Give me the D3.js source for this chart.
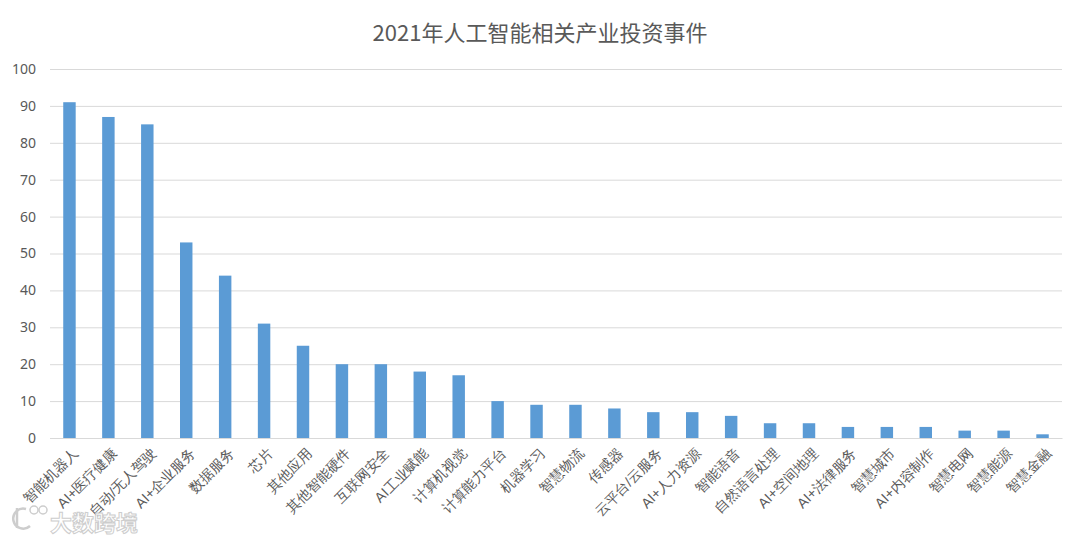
<!DOCTYPE html>
<html><head><meta charset="utf-8">
<script src="https://cdn.jsdelivr.net/npm/d3@7"></script>
<style>body{margin:0;background:#fff;}svg{display:block;font-family:"Noto Sans CJK SC","Microsoft YaHei",sans-serif;}</style>
</head><body>
<svg id="c" width="1080" height="540"></svg>
<script>
const title = "2021年人工智能相关产业投资事件";
const categories = ["智能机器人","AI+医疗健康","自动/无人驾驶","AI+企业服务","数据服务","芯片","其他应用","其他智能硬件","互联网安全","AI工业赋能","计算机视觉","计算能力平台","机器学习","智慧物流","传感器","云平台/云服务","AI+人力资源","智能语音","自然语言处理","AI+空间地理","AI+法律服务","智慧城市","AI+内容制作","智慧电网","智慧能源","智慧金融"];
const values = [91,87,85,53,44,31,25,20,20,18,17,10,9,9,8,7,7,6,4,4,3,3,3,2,2,1];
const yTicks = [0,10,20,30,40,50,60,70,80,90,100];
const watermark = "大数跨境";

(function(){
const svg = d3.select("#c");
const mL = 50, mR = 1062, mT = 69, mB = 438;
const x = d3.scaleBand().domain(categories).range([mL, mR]).paddingInner(0.68).paddingOuter(0.34);
const y = d3.scaleLinear().domain([0,100]).range([mB, mT]);

svg.append("text").attr("x",540).attr("y",41).attr("text-anchor","middle")
  .attr("font-size",22).attr("fill","#595959").text(title);

const yAxis = svg.append("g").attr("transform",`translate(${mL},0)`)
  .call(d3.axisLeft(y).tickValues(yTicks).tickSize(-(mR-mL)).tickPadding(14));
yAxis.select(".domain").remove();
yAxis.selectAll(".tick line").attr("stroke","#d9d9d9").attr("stroke-width",1);
yAxis.selectAll(".tick text").attr("fill","#595959").attr("font-size",14)
  .attr("font-family","'Noto Sans',sans-serif");

svg.append("g").selectAll("rect").data(values).join("rect")
  .attr("x",(d,i)=>x(categories[i])).attr("width",x.bandwidth())
  .attr("y",d=>y(d)).attr("height",d=>y(0)-y(d)).attr("fill","#5b9bd5");

const xAxis = svg.append("g").attr("transform",`translate(0,${mB})`)
  .call(d3.axisBottom(x).tickSize(0).tickPadding(0));
xAxis.select(".domain").attr("stroke","#d9d9d9");
xAxis.selectAll(".tick text").attr("fill","#595959").attr("font-size",14)
  .attr("text-anchor","end").attr("dy","0.35em")
  .attr("transform","translate(6,13) rotate(-45)");

const wm = svg.append("g").attr("opacity",0.9);
wm.append("text").attr("x",50).attr("y",531).attr("font-size",22).attr("font-weight","bold")
  .attr("fill","#ffffff").attr("stroke","#c8c8c8").attr("stroke-width",1).text(watermark);
wm.append("path").attr("d","M26,509 A10,10 0 1,0 30,526").attr("fill","none").attr("stroke","#c8c8c8").attr("stroke-width",2.5);
wm.append("line").attr("x1",17).attr("y1",508).attr("x2",17).attr("y2",528).attr("stroke","#c8c8c8").attr("stroke-width",2.5);
wm.append("circle").attr("cx",34).attr("cy",510).attr("r",4).attr("fill","none").attr("stroke","#c8c8c8").attr("stroke-width",1.5);
wm.append("circle").attr("cx",43).attr("cy",510).attr("r",4).attr("fill","none").attr("stroke","#c8c8c8").attr("stroke-width",1.5);
})();
</script>
</body></html>
